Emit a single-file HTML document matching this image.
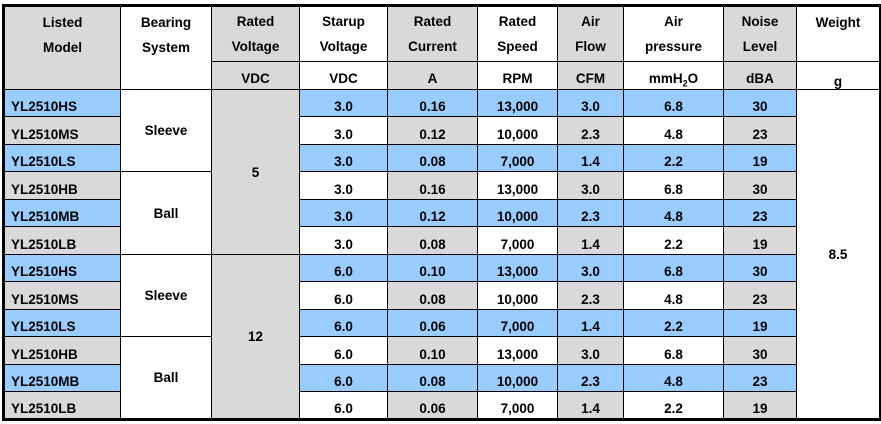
<!DOCTYPE html>
<html><head><meta charset="utf-8"><style>
body{margin:0;width:881px;height:424px;background:#fff;overflow:hidden;font-family:"Liberation Sans",Arial,sans-serif;}
table{position:absolute;left:2px;top:4px;border-collapse:collapse;table-layout:fixed;width:877px;border:3px solid #000;font-weight:bold;font-size:13.5px;color:#000;}
td{box-sizing:border-box;border:1px solid #000;text-align:center;padding:0;overflow:hidden;white-space:nowrap;line-height:15px;}
.h1 td{height:56px;line-height:25px;vertical-align:middle;}
.h2 td{height:28px;vertical-align:bottom;padding-bottom:3px;}
.d td{vertical-align:bottom;padding-bottom:2px;}
.g{background:#d9d9d9}.w{background:#fff}.b{background:#99ccff}
td.m{text-align:left;padding-left:6px}
.mid{vertical-align:middle!important;padding:0!important}
sub{line-height:0}
</style></head><body>
<table>
<colgroup><col style="width:117px"><col style="width:91px"><col style="width:88px"><col style="width:88px"><col style="width:90px"><col style="width:80px"><col style="width:66px"><col style="width:100px"><col style="width:73px"><col style="width:84px"></colgroup>
<tr class="h1">
<td class="g" rowspan="2" style="vertical-align:top;padding-top:3px">Listed<br>Model</td>
<td class="w" rowspan="2" style="vertical-align:top;padding-top:3px">Bearing<br>System</td>
<td class="g">Rated<br>Voltage</td>
<td class="w">Starup<br>Voltage</td>
<td class="g">Rated<br>Current</td>
<td class="w">Rated<br>Speed</td>
<td class="g">Air<br>Flow</td>
<td class="w">Air<br>pressure</td>
<td class="g">Noise<br>Level</td>
<td class="w" style="vertical-align:top;padding-top:3px">Weight</td>
</tr>
<tr class="h2">
<td class="g">VDC</td>
<td class="w">VDC</td>
<td class="g">A</td>
<td class="w">RPM</td>
<td class="g">CFM</td>
<td class="w">mmH<sub style="font-size:9px">2</sub>O</td>
<td class="g">dBA</td>
<td class="w" style="padding-bottom:0">g</td>
</tr>
<tbody id="body"></tbody>
</table>
<script>
const models=["YL2510HS","YL2510MS","YL2510LS","YL2510HB","YL2510MB","YL2510LB","YL2510HS","YL2510MS","YL2510LS","YL2510HB","YL2510MB","YL2510LB"];
const startup=["3.0","3.0","3.0","3.0","3.0","3.0","6.0","6.0","6.0","6.0","6.0","6.0"];
const current=["0.16","0.12","0.08","0.16","0.12","0.08","0.10","0.08","0.06","0.10","0.08","0.06"];
const speed=["13,000","10,000","7,000","13,000","10,000","7,000","13,000","10,000","7,000","13,000","10,000","7,000"];
const flow=["3.0","2.3","1.4","3.0","2.3","1.4","3.0","2.3","1.4","3.0","2.3","1.4"];
const pressure=["6.8","4.8","2.2","6.8","4.8","2.2","6.8","4.8","2.2","6.8","4.8","2.2"];
const noise=["30","23","19","30","23","19","30","23","19","30","23","19"];
const bearings=["Sleeve","Ball","Sleeve","Ball"];
const voltages=["5","12"];
const weight="8.5";
const tb=document.getElementById('body');
function cell(tr,text,cls,name){const td=document.createElement('td');td.textContent=text;td.className=cls;


tr.appendChild(td);return td;}
for(let i=0;i<models.length;i++){
 const tr=document.createElement('tr');tr.className='d';
 tr.style.height=(i%2===0?27:28)+'px';
 
 
 const blue=i%2===0;
 const first=cell(tr,models[i],(blue?'b':'g')+' m','model-cell');
 first.style.height=(i%2===0?27:28)+'px';
 if(i%3===0){const td=cell(tr,bearings[i/3],'w mid','bearing-cell');td.rowSpan=3;}
 if(i%6===0){const td=cell(tr,voltages[i/6],'g mid','voltage-cell');td.rowSpan=6;td.style.paddingBottom='24px';}
 cell(tr,startup[i],blue?'b':'w','startup-voltage-cell');
 cell(tr,current[i],blue?'b':'g','current-cell');
 cell(tr,speed[i],blue?'b':'w','speed-cell');
 cell(tr,flow[i],blue?'b':'g','air-flow-cell');
 cell(tr,pressure[i],blue?'b':'w','air-pressure-cell');
 cell(tr,noise[i],blue?'b':'g','noise-cell');
 if(i===0){const td=cell(tr,weight,'w mid','weight-cell');td.rowSpan=12;td.style.paddingBottom='30px';}
 tb.appendChild(tr);
}
</script>
</body></html>
